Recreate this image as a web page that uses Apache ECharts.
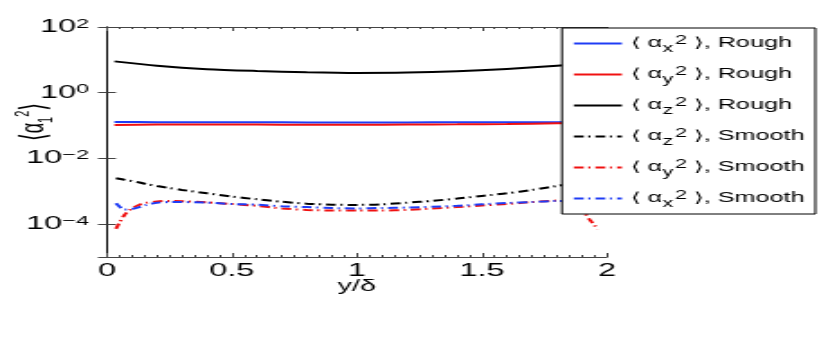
<!DOCTYPE html>
<html>
<head>
<meta charset="utf-8">
<script src="https://cdn.jsdelivr.net/npm/echarts@6/dist/echarts.min.js"></script>
<style>
  html, body { margin: 0; padding: 0; background: #fff; overflow: hidden; }
  /* the original figure is stretched sideways, so the chart is drawn narrow and widened */
  #main { width: 461px; height: 354px; transform: scaleX(1.8); transform-origin: 0 0; }
</style>
</head>
<body>
<div id="main"></div>
<script>
// wall distance y/delta
var xRough = [0.03, 0.2, 0.4, 0.6, 0.8, 1.0, 1.2, 1.4, 1.6, 1.8, 1.97];
var roughX = [0.128, 0.127, 0.126, 0.126, 0.125, 0.125, 0.125, 0.126, 0.126, 0.127, 0.128];
var roughY = [0.104, 0.107, 0.108, 0.107, 0.106, 0.106, 0.107, 0.109, 0.112, 0.117, 0.12];
var roughZ = [9.0, 6.6, 5.2, 4.6, 4.2, 4.0, 4.1, 4.5, 5.3, 6.6, 8.5];

var xSmooth = [0.036, 0.07, 0.1, 0.13, 0.16, 0.2, 0.25, 0.3, 0.4, 0.5, 0.6, 0.7, 0.8, 0.9,
               1.0, 1.1, 1.2, 1.3, 1.4, 1.5, 1.6, 1.7, 1.8, 1.87, 1.9, 1.93, 1.964];
var smoothZ = [2.5e-3, 2.25e-3, 2.05e-3, 1.85e-3, 1.65e-3, 1.45e-3, 1.25e-3, 1.1e-3, 8.7e-4, 6.9e-4,
               5.7e-4, 4.8e-4, 4.2e-4, 3.9e-4, 3.85e-4, 4.0e-4, 4.5e-4, 5.1e-4, 6.0e-4, 7.2e-4,
               8.7e-4, 1.1e-3, 1.45e-3, 1.75e-3, 1.9e-3, 2.1e-3, 2.4e-3];
var smoothY = [7.2e-5, 1.9e-4, 3.0e-4, 3.9e-4, 4.5e-4, 4.9e-4, 5.1e-4, 5.0e-4, 4.6e-4, 4.1e-4,
               3.6e-4, 3.0e-4, 2.7e-4, 2.6e-4, 2.6e-4, 2.6e-4, 2.7e-4, 3.0e-4, 3.3e-4, 3.7e-4,
               4.1e-4, 4.7e-4, 5.2e-4, 3.9e-4, 2.7e-4, 1.4e-4, 7e-5];
var smoothX = [4.3e-4, 2.8e-4, 2.9e-4, 3.3e-4, 3.9e-4, 4.5e-4, 4.7e-4, 4.7e-4, 4.5e-4, 4.1e-4,
               3.9e-4, 3.5e-4, 3.3e-4, 3.1e-4, 3.0e-4, 3.1e-4, 3.2e-4, 3.4e-4, 3.6e-4, 4.0e-4,
               4.4e-4, 4.7e-4, 5.1e-4, 5.0e-4, 4.8e-4, 4.4e-4, 4.2e-4];

var legendNames = ['x Rough', 'y Rough', 'z Rough', 'z Smooth', 'y Smooth', 'x Smooth'];

var FONT = 'Liberation Sans, Arial, DejaVu Sans, sans-serif';
var BLUE = '#1f3cf5';
var RED = '#f01010';
var DASHDOT = [5.5, 2.5, 1.2, 2.8];

function pairs(xs, ys) {
  return xs.map(function (x, i) { return [x, ys[i]]; });
}

function line(name, xs, ys, color, dashed) {
  return {
    name: name,
    type: 'line',
    data: pairs(xs, ys),
    symbol: 'none',
    smooth: 0.25,
    xAxisIndex: 0,
    yAxisIndex: 0,
    lineStyle: { color: color, width: 2, type: dashed ? DASHDOT : 'solid' },
    itemStyle: { color: color }
  };
}

var axisCol = '#444';

var myChart = echarts.init(document.getElementById('main'));
var option = {
  animation: false,
  backgroundColor: '#fff',
  grid: { left: 59.4, top: 27, width: 277.8, height: 230, containLabel: false, outerBoundsMode: 'none' },
  xAxis: [{
    type: 'value', min: 0, max: 2, interval: 0.5,
    name: 'y/δ', nameLocation: 'middle', nameGap: 21.5, nameMoveOverlap: false,
    nameTextStyle: { fontFamily: FONT, fontSize: 16, color: '#000' },
    axisLine: { lineStyle: { color: axisCol, width: 1 } },
    axisTick: { inside: true, length: 4, lineStyle: { color: axisCol } },
    minorTick: { show: true, splitNumber: 10, length: 2, lineStyle: { color: axisCol } },
    axisLabel: { fontFamily: FONT, fontSize: 18, color: '#000', margin: 5 },
    splitLine: { show: false }
  }, {
    type: 'value', min: 0, max: 2, interval: 0.5, position: 'top',
    axisLine: { lineStyle: { color: axisCol, width: 1 } },
    axisTick: { inside: true, length: 4, lineStyle: { color: axisCol } },
    minorTick: { show: true, splitNumber: 10, length: 2, lineStyle: { color: axisCol } },
    axisLabel: { show: false },
    splitLine: { show: false }
  }],
  yAxis: [{
    type: 'log', logBase: 100, min: 1e-5, max: 1e2,
    name: '{t|⟨}{a|α}{s|1}{p|2}{t|⟩}',
    nameLocation: 'middle', nameRotate: 90, nameGap: 28, nameMoveOverlap: false,
    nameTextStyle: {
      fontFamily: FONT, color: '#000', padding: [0, 0, 0, 40],
      rich: {
        t: { fontFamily: FONT, fontSize: 20, lineHeight: 24 },
        a: { fontFamily: FONT, fontSize: 18, lineHeight: 24 },
        s: { fontFamily: FONT, fontSize: 11, lineHeight: 11, verticalAlign: 'bottom' },
        p: { fontFamily: FONT, fontSize: 11, lineHeight: 11, verticalAlign: 'top' }
      }
    },
    axisLine: { show: true, lineStyle: { color: axisCol, width: 1 } },
    axisTick: { inside: true, length: 5, lineStyle: { color: axisCol } },
    axisLabel: {
      margin: 10,
      formatter: function (v) {
        var e = Math.round(Math.log10(v));
        if (e % 2 !== 0) return '';
        return '{b|10}{e|' + (e < 0 ? '−' : '') + Math.abs(e) + '}';
      },
      rich: {
        b: { fontFamily: FONT, fontSize: 18, color: '#000', lineHeight: 19 },
        e: { fontFamily: FONT, fontSize: 13, color: '#000', lineHeight: 13, verticalAlign: 'top' }
      }
    },
    splitLine: { show: false }
  }, {
    type: 'log', logBase: 100, min: 1e-5, max: 1e2, position: 'right',
    axisLine: { show: true, lineStyle: { color: '#000', width: 1 } },
    axisTick: { inside: true, length: 5, lineStyle: { color: axisCol } },
    axisLabel: { show: false },
    splitLine: { show: false }
  }],
  legend: {
    data: legendNames,
    orient: 'vertical',
    left: 312.2, top: 28,
    padding: [4.5, 6, 4.5, 5.6],
    itemWidth: 26.7, itemHeight: 14, itemGap: 9,
    itemStyle: { opacity: 0 },
    backgroundColor: '#fff',
    borderColor: '#000', borderWidth: 1,
    formatter: function (name) {
      var p = name.split(' ');
      return '{t|⟨ α}{s|' + p[0] + '}{p|2}{t| ⟩, ' + p[1] + '}';
    },
    textStyle: {
      fontFamily: FONT, fontSize: 14, color: '#000',
      rich: {
        t: { fontFamily: FONT, fontSize: 14, lineHeight: 22, color: '#000' },
        s: { fontFamily: FONT, fontSize: 12, lineHeight: 12, verticalAlign: 'bottom', color: '#000' },
        p: { fontFamily: FONT, fontSize: 12, lineHeight: 14, verticalAlign: 'top', padding: [2, 0, 0, 1], color: '#000' }
      }
    }
  },
  series: [
    line('x Rough', xRough, roughX, BLUE, false),
    line('y Rough', xRough, roughY, RED, false),
    line('z Rough', xRough, roughZ, '#000', false),
    line('z Smooth', xSmooth, smoothZ, '#000', true),
    line('y Smooth', xSmooth, smoothY, RED, true),
    line('x Smooth', xSmooth, smoothX, BLUE, true)
  ]
};
myChart.setOption(option);
</script>
</body>
</html>
